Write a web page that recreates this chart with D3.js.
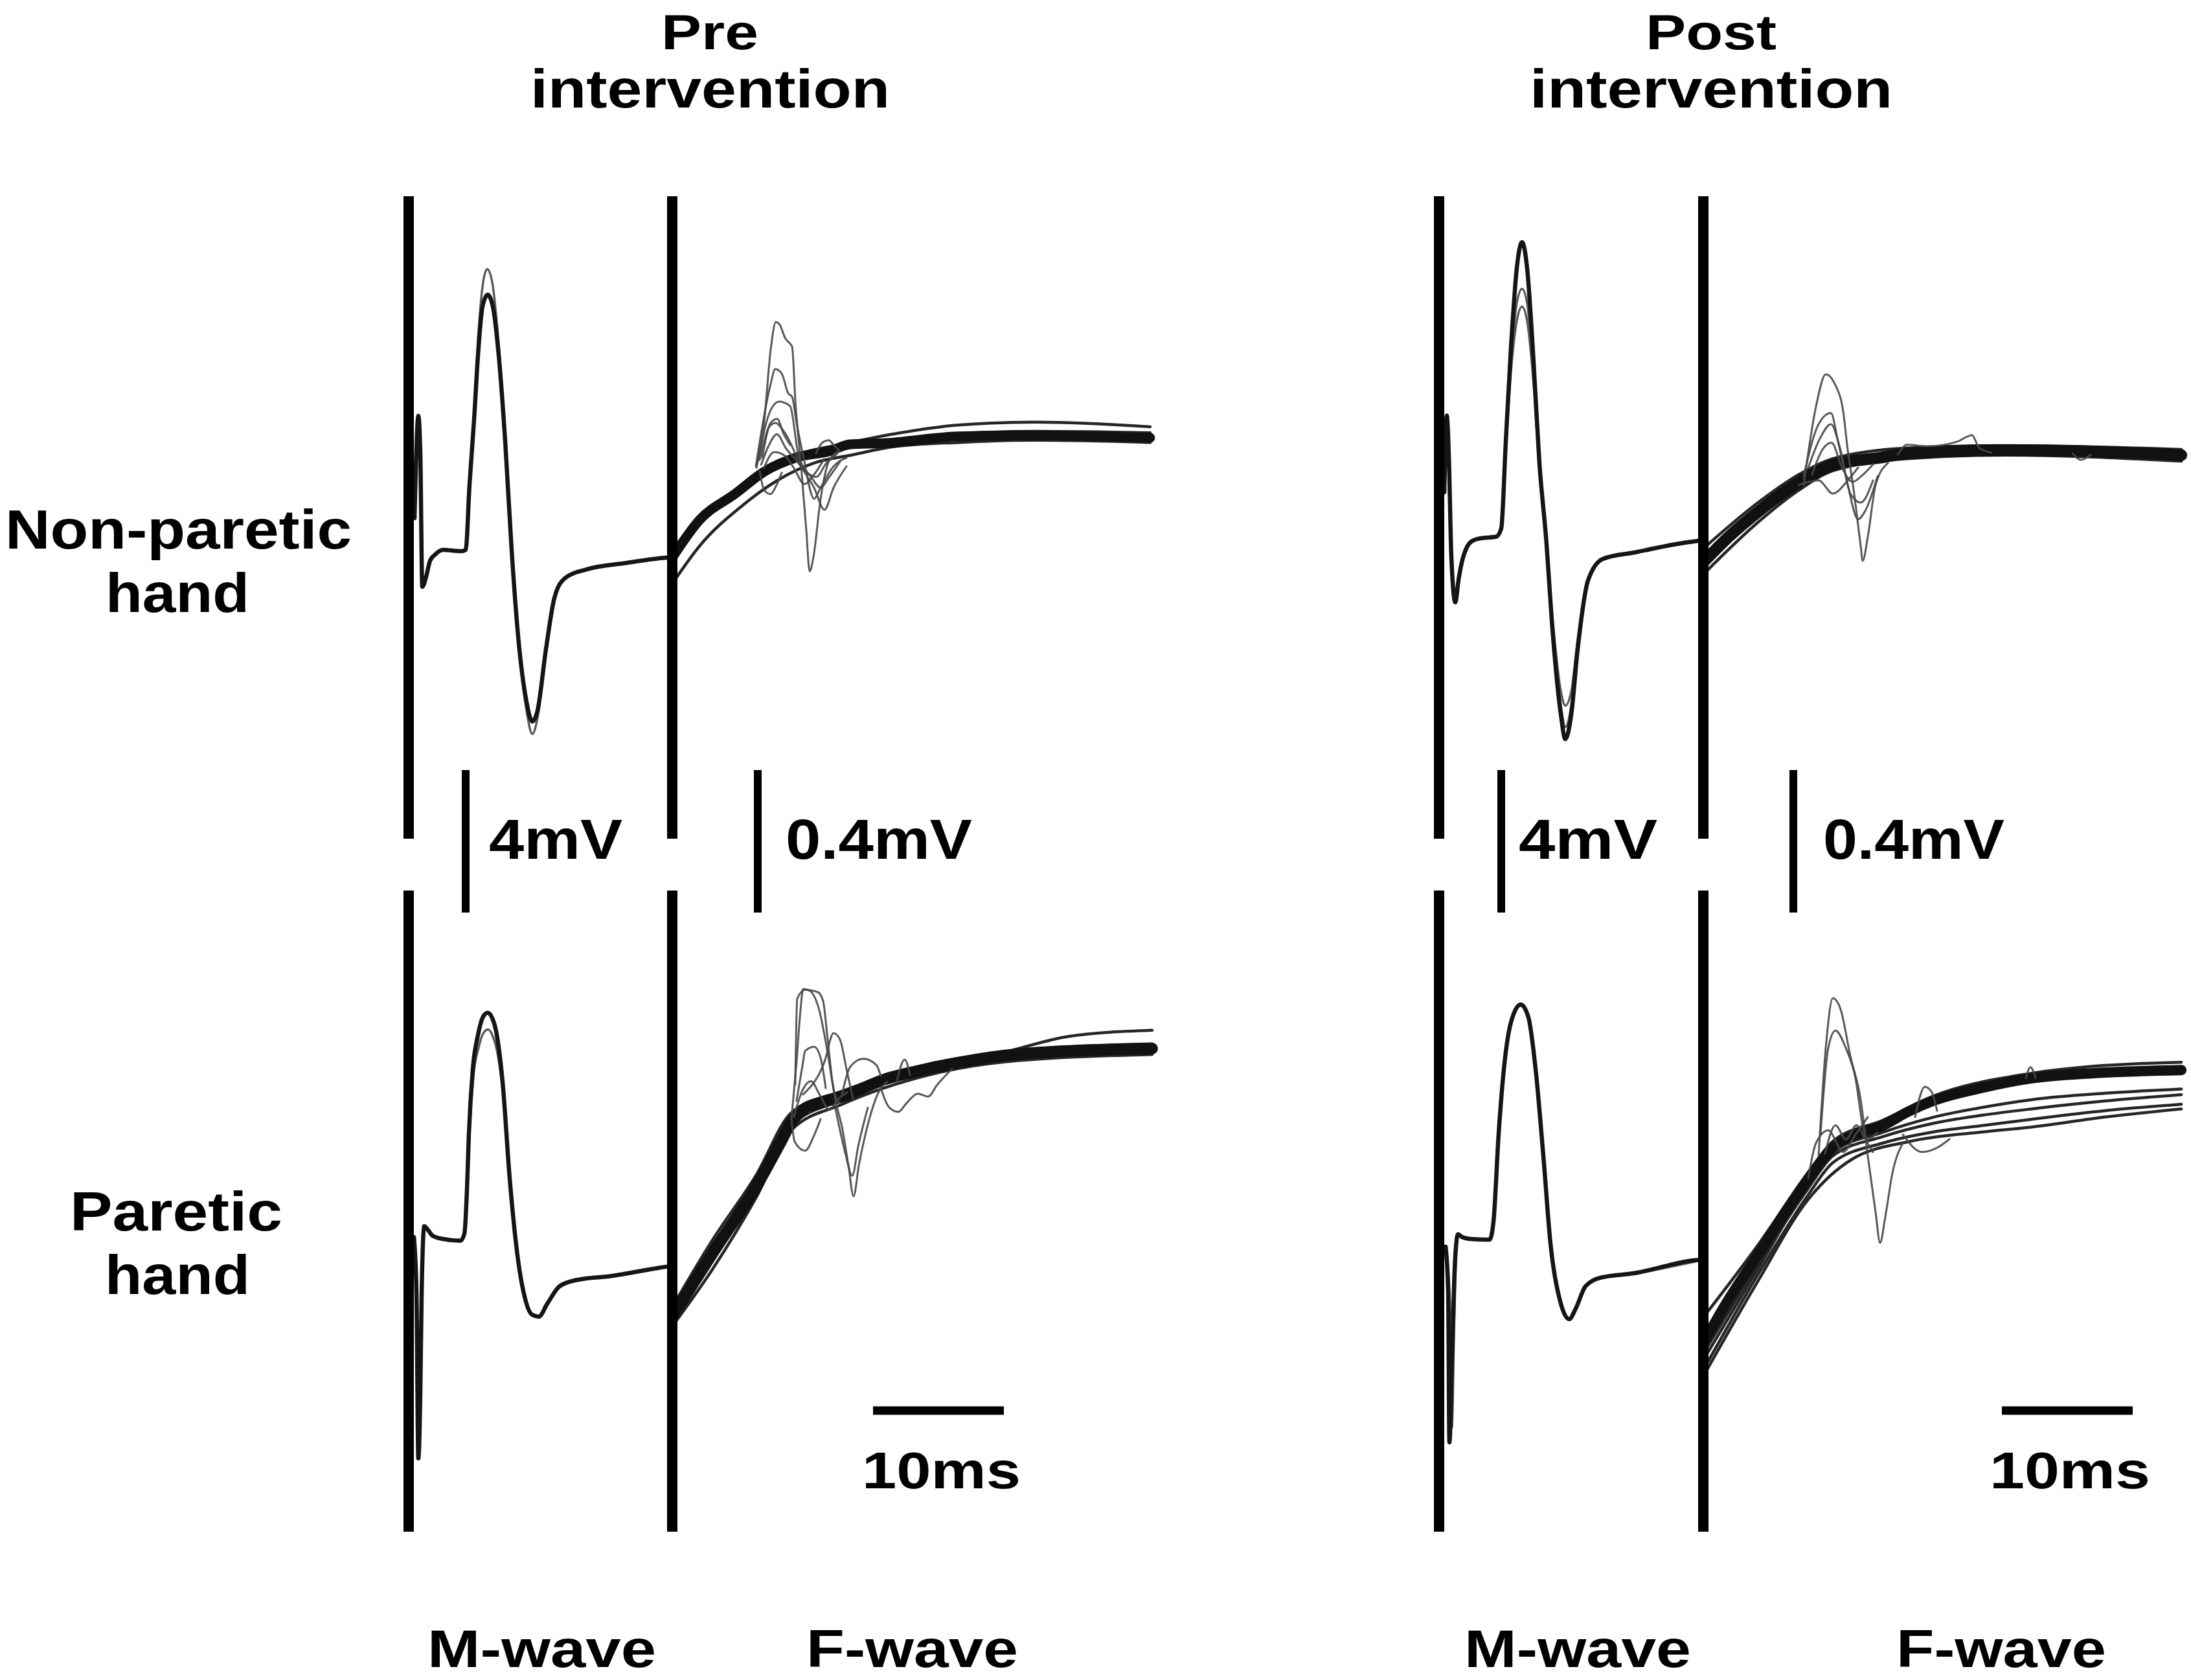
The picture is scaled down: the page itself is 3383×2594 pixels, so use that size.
<!DOCTYPE html>
<html>
<head>
<meta charset="utf-8">
<script src="https://cdn.jsdelivr.net/npm/d3@7"></script>
<style>
  html, body { margin: 0; padding: 0; background: #fff; }
  svg { display: block; }
</style>
</head>
<body>
<svg id="chart" width="3383" height="2594"></svg>
<script>
// ---------------- DATA (time in ms, amplitude in mV) ----------------
// Scale-bar values and their labels
const scaleValues = { mBar: 4, fBar: 0.4, tBar: 10 };
const scaleLabels = { mBar: "4mV", fBar: "0.4mV", tBar: "10ms" };
const columnTitles = [["Pre", "intervention"], ["Post", "intervention"]];
const rowLabels = [["Non-paretic", "hand"], ["Paretic", "hand"]];
const waveLabels = ["M-wave", "F-wave"];

// ---- Pre intervention, non-paretic hand ----
const preNonM_main = [[0.50,0.91],[0.79,3.78],[0.94,2.73],[1.09,-1.02],[1.39,-0.73],[1.68,-0.29],[2.08,-0.11],[2.67,0.02],[4.06,-0.02],[4.41,0.02],[4.70,1.84],[5.05,3.67],[5.35,5.49],[5.69,6.84],[6.09,7.18],[6.49,6.84],[6.93,5.49],[7.43,3.05],[7.92,0.02],[8.42,-2.42],[9.06,-4.25],[9.50,-4.80],[9.90,-4.49],[10.54,-2.78],[11.19,-1.33],[11.98,-0.78],[13.66,-0.53],[16.68,-0.35],[19.75,-0.20],[20.2,-0.19]];
const preNonM_alt = [[0.50,0.91],[0.79,3.78],[1.09,-1.02],[1.68,-0.29],[2.67,0.02],[4.06,-0.02],[4.41,0.02],[4.72,1.90],[5.05,3.90],[5.35,5.90],[5.69,7.40],[6.05,7.90],[6.45,7.50],[6.93,5.80],[7.43,3.20],[7.92,0.00],[8.42,-2.50],[9.06,-4.50],[9.50,-5.15],[9.90,-4.70],[10.54,-2.85],[11.19,-1.35],[11.98,-0.80],[13.66,-0.54],[16.68,-0.36],[20.2,-0.20]];
const preNonF_base = [[20.30,-0.331],[22.28,-0.231],[25.05,-0.156],[27.23,-0.095],[29.70,-0.055],[32.18,-0.038],[33.81,-0.018],[36.39,-0.015],[42.08,0.004],[48.02,0.007],[56.73,0.0]];
const preNonF_edges = [
  [[20.30,-0.404],[22.28,-0.304],[25.60,-0.189],[28.22,-0.120],[31.19,-0.069],[33.81,-0.049],[37.13,-0.025],[42.08,-0.013],[48.02,-0.007],[56.73,-0.013]],
  [[20.30,-0.320],[22.28,-0.225],[25.05,-0.149],[27.23,-0.087],[29.70,-0.047],[33.17,-0.018],[37.13,0.011],[42.08,0.036],[48.02,0.044],[56.73,0.031]],
  [[20.30,-0.340],[22.28,-0.240],[25.05,-0.165],[27.23,-0.104],[29.70,-0.064],[33.17,-0.032],[37.13,-0.008],[42.08,0.012],[48.02,0.018],[56.73,0.014]]
];
const preNonF_resp = [
  [[26.64,-0.084],[27.23,0.047],[27.72,0.247],[28.12,0.325],[28.37,0.320],[28.86,0.278],[29.36,0.256],[29.61,0.102],[30.05,-0.080],[30.45,-0.262],[30.70,-0.375],[30.99,-0.335],[31.54,-0.171],[32.18,-0.065],[32.92,-0.038]],
  [[26.59,-0.080],[27.72,0.151],[28.07,0.193],[28.57,0.180],[29.06,0.125],[29.36,0.115],[29.70,0.042],[30.20,-0.049],[31.04,-0.171],[31.54,-0.140],[32.53,-0.080],[33.52,-0.056]],
  [[26.73,-0.067],[27.72,0.078],[28.37,0.102],[29.21,0.089],[29.85,-0.049],[30.84,-0.111],[31.54,-0.140],[32.18,-0.111],[33.02,-0.067]],
  [[26.88,-0.062],[27.58,0.029],[28.07,0.042],[28.86,0.011],[30.05,-0.080],[31.04,-0.140],[31.83,-0.202],[32.53,-0.140],[33.52,-0.080]],
  [[26.88,-0.093],[27.23,-0.147],[27.72,-0.158],[28.07,-0.140],[28.57,-0.098]],
  [[31.19,-0.044],[31.68,-0.013],[32.18,-0.007],[32.53,-0.020],[33.02,-0.038]],
  [[27.08,-0.056],[27.72,0.042],[28.22,0.053],[28.71,0.011],[29.21,-0.020]],
  [[27.00,-0.075],[27.60,-0.020],[28.20,0.010],[28.90,-0.030],[29.60,-0.060],[30.40,-0.095],[31.20,-0.110],[32.00,-0.070],[32.80,-0.045]],
  [[27.20,-0.085],[28.00,-0.040],[28.80,-0.050],[29.50,-0.085],[30.30,-0.130],[31.00,-0.105],[31.80,-0.060]]
];

// ---- Pre intervention, paretic hand ----
const preParM_main = [[0.45,0.05],[0.64,-1.40],[0.79,-6.16],[0.94,-4.31],[1.04,-1.58],[1.24,0.36],[1.49,0.27],[1.88,0.09],[2.67,0],[4.01,-0.05],[4.31,0.15],[4.50,1.33],[4.65,2.93],[4.95,4.76],[5.35,5.73],[5.74,6.24],[6.09,6.35],[6.44,6.20],[6.73,5.84],[7.23,4.40],[7.77,1.71],[8.37,-0.47],[8.96,-1.69],[9.50,-2.13],[10.00,-2.18],[10.64,-1.82],[11.58,-1.33],[12.92,-1.15],[15.54,-1.04],[19.75,-0.78],[20.2,-0.76]];
const preParM_alt = [[0.45,0.05],[0.64,-1.40],[0.79,-6.00],[0.94,-4.20],[1.04,-1.50],[1.24,0.36],[1.88,0.09],[2.67,0],[4.01,-0.05],[4.31,0.15],[4.52,1.30],[4.68,2.80],[4.98,4.50],[5.38,5.35],[5.80,5.80],[6.12,5.88],[6.47,5.70],[6.76,5.35],[7.25,4.10],[7.77,1.60],[8.37,-0.50],[8.96,-1.72],[9.50,-2.15],[10.00,-2.20],[10.64,-1.84],[11.58,-1.35],[12.92,-1.16],[15.54,-1.05],[20.2,-0.77]];
const preParF_base = [[20.30,-0.745],[23.27,-0.573],[26.59,-0.387],[28.47,-0.262],[29.31,-0.205],[30.20,-0.170],[31.50,-0.150],[33.17,-0.133],[36.49,-0.084],[39.75,-0.055],[45.55,-0.018],[50.99,-0.004],[56.88,0.002]];
const preParF_edges = [
  [[20.30,-0.718],[23.27,-0.536],[26.59,-0.355],[29.31,-0.178],[33.17,-0.118],[39.75,-0.042],[45.55,-0.009],[56.88,0.015]],
  [[20.30,-0.773],[23.27,-0.618],[26.59,-0.418],[29.31,-0.227],[33.17,-0.155],[39.75,-0.073],[45.55,-0.036],[56.88,-0.015]],
  [[39.75,-0.055],[45.55,-0.009],[50.50,0.036],[56.88,0.053]],
  [[20.30,-0.760],[23.27,-0.595],[26.59,-0.400],[29.31,-0.214],[33.17,-0.143],[39.75,-0.062],[45.55,-0.026],[56.88,-0.004]]
];
const preParF_resp = [
  [[29.31,-0.196],[29.70,-0.036],[30.00,0.109],[30.20,0.169],[30.70,0.164],[31.44,0.109],[32.03,0],[32.68,-0.145],[33.17,-0.218],[33.67,-0.327],[34.06,-0.413],[34.46,-0.327],[35.30,-0.191],[35.89,-0.127],[36.64,-0.091]],
  [[29.60,-0.100],[29.75,0.142],[30.35,0.167],[31.34,0.160],[31.73,0.135],[32.08,0.027],[32.48,-0.100],[32.97,-0.151]],
  [[30.20,-0.127],[31.83,-0.036],[32.53,0.045],[33.02,0.027],[33.52,-0.056],[34.01,-0.138]],
  [[29.70,-0.145],[30.20,-0.036],[30.35,-0.005],[31.04,0.007],[31.54,-0.024],[31.93,-0.109]],
  [[33.17,-0.127],[33.81,-0.049],[34.80,-0.027],[35.79,-0.044],[36.14,-0.075]],
  [[36.14,-0.109],[36.79,-0.164],[37.48,-0.176],[38.12,-0.151],[38.96,-0.125],[39.75,-0.133],[40.45,-0.100],[41.59,-0.055]],
  [[37.38,-0.087],[37.97,-0.029],[38.37,-0.073]],
  [[29.31,-0.196],[29.56,-0.260],[30.35,-0.285],[31.04,-0.242],[31.54,-0.196]],
  [[32.68,-0.167],[33.42,-0.291],[33.96,-0.355],[34.41,-0.273],[35.15,-0.164]],
  [[29.50,-0.190],[30.10,-0.120],[30.80,-0.090],[31.50,-0.130],[32.20,-0.170],[32.90,-0.140],[33.60,-0.120]]
];

// ---- Post intervention, non-paretic hand ----
const postNonM_main = [[0.40,1.29],[0.59,3.44],[0.74,2.38],[0.94,-0.53],[1.24,-1.80],[1.49,-1.16],[1.73,-0.69],[2.13,-0.25],[2.48,-0.09],[3.22,0],[4.36,0.04],[4.75,0.27],[5.10,2.71],[5.50,5.38],[5.94,7.58],[6.34,8.31],[6.73,7.58],[7.23,4.91],[7.67,2.11],[8.17,0.04],[8.71,-2.76],[9.31,-4.96],[9.65,-5.64],[10.10,-4.96],[10.59,-3.13],[11.39,-1.18],[12.52,-0.58],[14.95,-0.40],[19.50,-0.09],[20.10,-0.07]];
const postNonM_alt1 = [[0.40,1.29],[0.59,3.44],[0.74,2.38],[0.94,-0.53],[1.24,-1.80],[1.49,-1.16],[1.73,-0.69],[2.48,-0.09],[3.22,0],[4.36,0.04],[4.75,0.27],[5.10,2.60],[5.50,5.00],[5.94,6.60],[6.34,7.00],[6.73,6.60],[7.23,4.60],[7.67,2.00],[8.17,0.00],[8.71,-2.60],[9.31,-4.70],[9.65,-5.30],[10.10,-4.70],[10.59,-3.00],[11.39,-1.15],[12.52,-0.58],[14.95,-0.40],[20.10,-0.07]];
const postNonM_alt2 = [[0.40,1.29],[0.59,3.44],[0.94,-0.53],[1.24,-1.80],[1.73,-0.69],[2.48,-0.09],[3.22,0],[4.36,0.04],[4.75,0.25],[5.10,2.50],[5.50,4.70],[5.94,6.10],[6.34,6.50],[6.73,6.10],[7.23,4.30],[7.67,1.90],[8.17,0.00],[8.71,-2.40],[9.31,-4.30],[9.65,-4.70],[10.10,-4.30],[10.59,-2.85],[11.39,-1.12],[12.52,-0.57],[14.95,-0.39],[20.10,-0.07]];
const postNonF_base = [[20.30,-0.302],[22.18,-0.233],[24.46,-0.162],[27.48,-0.082],[30.10,-0.033],[33.91,-0.011],[35.79,0],[43.37,0.009],[50.89,0.004],[56.74,-0.005]];
const postNonF_edges = [
  [[20.30,-0.264],[24.46,-0.136],[27.48,-0.060],[30.10,-0.015],[35.79,0.015],[43.37,0.022],[56.74,0.011]],
  [[20.30,-0.336],[24.46,-0.191],[27.48,-0.104],[30.10,-0.049],[35.79,-0.015],[43.37,-0.005],[56.74,-0.022]]
];
const postNonF_resp = [
  [[27.87,-0.089],[28.81,0.131],[29.56,0.222],[30.30,0.191],[30.89,0.118],[31.24,0.009],[31.64,-0.089],[32.23,-0.260],[32.38,-0.302],[32.77,-0.235],[33.37,-0.089],[34.31,-0.027]],
  [[27.87,-0.064],[29.01,0.082],[29.95,0.113],[30.50,0.033],[31.24,-0.089],[32.03,-0.185],[32.57,-0.162],[33.52,-0.064]],
  [[28.22,-0.040],[29.16,0.045],[29.95,0.082],[30.69,0.009],[31.44,-0.113],[32.23,-0.138],[33.17,-0.076]],
  [[27.48,-0.089],[29.01,-0.076],[30.10,-0.113],[31.24,-0.076],[32.03,-0.040]],
  [[35.05,-0.004],[35.79,0.024],[37.33,0.020],[39.61,0.033],[40.74,0.051],[41.29,0.015],[42.23,0.002]],
  [[48.42,0],[49.06,-0.018],[49.80,-0.004]],
  [[28.50,-0.060],[29.30,0.010],[30.00,0.030],[30.80,-0.040],[31.60,-0.080],[32.40,-0.060],[33.20,-0.030]]
];

// ---- Post intervention, paretic hand ----
const postParM_main = [[0.50,-0.22],[0.69,-1.40],[0.79,-5.71],[0.99,-3.40],[1.19,-0.85],[1.44,0.13],[1.78,0.05],[2.38,0],[3.86,-0.02],[4.16,0.49],[4.55,2.93],[4.95,4.76],[5.50,6.09],[6.24,6.58],[6.83,6.22],[7.38,4.76],[7.97,2.33],[8.51,-0.11],[9.31,-1.82],[9.95,-2.25],[10.45,-1.95],[11.19,-1.33],[12.33,-1.09],[14.95,-0.96],[19.50,-0.60],[20.10,-0.58]];
const postParM_alt = [[0.55,-0.30],[0.85,-2.00],[0.98,-5.30],[1.15,-2.50],[1.40,0.10],[1.78,0.05],[2.38,0],[3.86,-0.02],[4.16,0.49],[4.55,2.90],[4.95,4.72],[5.50,6.05],[6.24,6.55],[6.83,6.20],[7.38,4.74],[7.97,2.31],[8.51,-0.12],[9.31,-1.83],[9.95,-2.26],[10.45,-1.96],[11.19,-1.34],[12.33,-1.10],[14.95,-0.97],[20.10,-0.59]];
const postParF_base = [[20.35,-0.751],[22.18,-0.636],[24.46,-0.509],[26.64,-0.385],[28.22,-0.300],[30.10,-0.213],[32.08,-0.173],[33.91,-0.151],[35.79,-0.113],[37.72,-0.082],[41.49,-0.045],[45.30,-0.018],[50.89,-0.002],[56.74,0.005]];
const postParF_edges = [
  [[20.35,-0.782],[24.46,-0.536],[28.22,-0.327],[30.10,-0.236],[33.91,-0.182],[37.72,-0.145],[41.49,-0.122],[45.30,-0.104],[50.89,-0.082],[56.74,-0.064]],
  [[20.35,-0.827],[24.46,-0.564],[28.22,-0.345],[30.10,-0.255],[33.91,-0.200],[37.72,-0.169],[41.49,-0.151],[45.30,-0.133],[50.89,-0.109],[56.74,-0.091]],
  [[20.35,-0.845],[24.46,-0.582],[28.22,-0.358],[31.58,-0.245],[36.04,-0.195],[41.49,-0.169],[45.30,-0.155],[50.89,-0.127],[56.74,-0.104]],
  [[20.35,-0.682],[24.46,-0.482],[28.22,-0.282],[30.10,-0.195],[33.91,-0.136],[37.72,-0.069],[45.30,-0.004],[50.89,0.018],[56.74,0.027]],
  [[20.35,-0.800],[24.46,-0.548],[28.22,-0.318],[30.10,-0.226],[33.91,-0.170],[37.72,-0.128],[41.49,-0.100],[45.30,-0.078],[50.89,-0.060],[56.74,-0.048]]
];
const postParF_resp = [
  [[29.01,-0.236],[29.56,0.067],[30.10,0.207],[30.69,0.176],[31.44,0.044],[32.23,-0.078],[32.77,-0.236],[33.37,-0.395],[33.71,-0.480],[34.11,-0.407],[34.65,-0.285],[35.45,-0.200]],
  [[29.16,-0.176],[29.75,0.067],[30.30,0.116],[31.09,0.067],[31.83,-0.018],[32.38,-0.151],[33.17,-0.225]],
  [[36.39,-0.127],[37.13,-0.042],[37.63,-0.055],[38.07,-0.109]],
  [[28.22,-0.298],[28.81,-0.200],[29.75,-0.164],[30.89,-0.225],[31.83,-0.176],[32.77,-0.127]],
  [[35.45,-0.176],[36.93,-0.225],[38.07,-0.213],[39.01,-0.189]],
  [[44.85,-0.018],[45.20,0.013],[45.60,-0.018]],
  [[29.50,-0.230],[30.30,-0.150],[31.10,-0.190],[31.90,-0.150],[32.70,-0.190],[33.50,-0.170]]
];

// ---------------- LAYOUT ----------------
const W = 3383, H = 2594;
const PX_PER_MS = 20.2, PX_PER_MV_M = 55, PX_PER_MV_F = 550;
const M_WINDOW = [0, 20.2], F_WINDOW = [20.2, 56.9];
const FONT = "'Liberation Sans', Arial, Helvetica, sans-serif";

const panels = [
  { col: 0, row: 0, xM: 630, xF: 1038, y0M: 850,  y0F: 676,  m: [preNonM_main, preNonM_alt], fBase: preNonF_base, fEdges: preNonF_edges, fResp: preNonF_resp, baseW: 15 },
  { col: 0, row: 1, xM: 630, xF: 1038, y0M: 1913, y0F: 1620, m: [preParM_main, preParM_alt], fBase: preParF_base, fEdges: preParF_edges, fResp: preParF_resp, baseW: 18 },
  { col: 1, row: 0, xM: 2222, xF: 2630, y0M: 831, y0F: 700,  m: [postNonM_main, postNonM_alt1, postNonM_alt2], fBase: postNonF_base, fEdges: postNonF_edges, fResp: postNonF_resp, baseW: 18 },
  { col: 1, row: 1, xM: 2222, xF: 2630, y0M: 1913, y0F: 1655, m: [postParM_main, postParM_alt], fBase: postParF_base, fEdges: postParF_edges, fResp: postParF_resp, baseW: 16 }
];
const rowSpan = [[303, 1295], [1375, 2365]];
const axisX = [[631, 1038], [2222, 2630]];

const svg = d3.select("#chart");
svg.append("rect").attr("width", W).attr("height", H).attr("fill", "#fff");

panels.forEach(p => {
  const xMs = d3.scaleLinear().domain(M_WINDOW).range([p.xM, p.xM + (M_WINDOW[1] - M_WINDOW[0]) * PX_PER_MS]);
  const xFs = d3.scaleLinear().domain(F_WINDOW).range([p.xF, p.xF + (F_WINDOW[1] - F_WINDOW[0]) * PX_PER_MS]);
  const yMs = d3.scaleLinear().domain([0, 1]).range([p.y0M, p.y0M - PX_PER_MV_M]);
  const yFs = d3.scaleLinear().domain([0, 1]).range([p.y0F, p.y0F - PX_PER_MV_F]);
  p.scales = { xMs, xFs, yMs, yFs };

  const lineM = d3.line().x(d => xMs(d[0])).y(d => yMs(d[1])).curve(d3.curveMonotoneX);
  const lineF = d3.line().x(d => xFs(d[0])).y(d => yFs(d[1])).curve(d3.curveMonotoneX);

  const g = svg.append("g").attr("fill", "none").attr("stroke-linejoin", "round").attr("stroke-linecap", "round");

  // M-wave traces
  p.m.slice(1).forEach(tr => g.append("path").attr("d", lineM(tr)).attr("stroke", "#5a5a5a").attr("stroke-width", 3.5));
  g.append("path").attr("d", lineM(p.m[0])).attr("stroke", "#151515").attr("stroke-width", 6.5);

  // F-wave traces
  p.fEdges.forEach(tr => g.append("path").attr("d", lineF(tr)).attr("stroke", "#262626").attr("stroke-width", 4.5));
  g.append("path").attr("d", lineF(p.fBase)).attr("stroke", "#111").attr("stroke-width", p.baseW);
  p.fResp.forEach(tr => g.append("path").attr("d", lineF(tr)).attr("stroke", "#474747").attr("stroke-opacity", 0.9).attr("stroke-width", 3));
});

// Thick vertical axis lines
axisX.forEach(xs => xs.forEach(x => rowSpan.forEach(([y1, y2]) => {
  svg.append("line").attr("x1", x).attr("x2", x).attr("y1", y1).attr("y2", y2)
    .attr("stroke", "#000").attr("stroke-width", 16);
})));

// Scale bars (lengths come from the scales)
const barTop = 1189;
[0, 1].forEach(col => {
  const p = panels.find(q => q.col === col && q.row === 0);
  const { yMs, yFs, xFs } = p.scales;
  const mLen = yMs(0) - yMs(scaleValues.mBar);
  const fLen = yFs(0) - yFs(scaleValues.fBar);
  const mBarX = col === 0 ? 719 : 2318;
  const fBarX = col === 0 ? 1170 : 2769;
  svg.append("line").attr("x1", mBarX).attr("x2", mBarX).attr("y1", barTop).attr("y2", barTop + mLen).attr("stroke", "#000").attr("stroke-width", 12);
  svg.append("line").attr("x1", fBarX).attr("x2", fBarX).attr("y1", barTop).attr("y2", barTop + fLen).attr("stroke", "#000").attr("stroke-width", 12);
  const tLen = xFs(F_WINDOW[0] + scaleValues.tBar) - xFs(F_WINDOW[0]);
  const tBarX = col === 0 ? 1348 : 3091;
  svg.append("line").attr("x1", tBarX).attr("x2", tBarX + tLen).attr("y1", 2178).attr("y2", 2178).attr("stroke", "#000").attr("stroke-width", 13);
});

// Text helper
function label(txt, x, y, len, size) {
  svg.append("text").attr("x", x).attr("y", y).text(txt)
    .attr("font-family", FONT).attr("font-weight", "bold").attr("font-size", size)
    .attr("fill", "#000").attr("textLength", len).attr("lengthAdjust", "spacingAndGlyphs");
}

// Column titles
label(columnTitles[0][0], 1021, 76, 150, 76);
label(columnTitles[0][1], 819, 166, 555, 84);
label(columnTitles[1][0], 2541, 76, 202, 76);
label(columnTitles[1][1], 2362, 166, 560, 84);

// Row labels
label(rowLabels[0][0], 8, 847, 535, 86);
label(rowLabels[0][1], 163, 945, 222, 86);
label(rowLabels[1][0], 108, 1900, 328, 86);
label(rowLabels[1][1], 162, 1998, 224, 86);

// Scale-bar labels
label(scaleLabels.mBar, 755, 1326, 206, 88);
label(scaleLabels.fBar, 1213, 1326, 288, 88);
label(scaleLabels.mBar, 2345, 1326, 214, 88);
label(scaleLabels.fBar, 2815, 1326, 280, 88);
label(scaleLabels.tBar, 1331, 2298, 245, 80);
label(scaleLabels.tBar, 3072, 2298, 248, 80);

// Bottom wave labels
label(waveLabels[0], 660, 2574, 353, 82);
label(waveLabels[1], 1245, 2574, 327, 82);
label(waveLabels[0], 2261, 2574, 350, 82);
label(waveLabels[1], 2928, 2574, 324, 82);
</script>
</body>
</html>
